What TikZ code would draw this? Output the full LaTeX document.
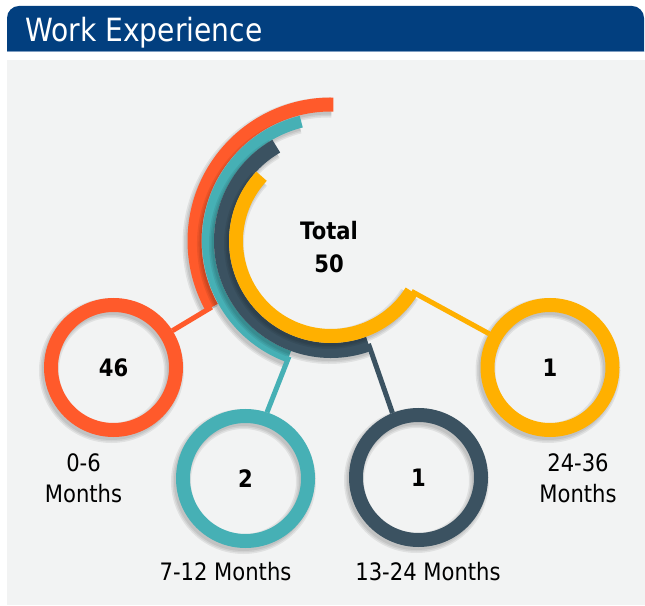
\documentclass[tikz,border=0pt]{standalone}
\usepackage{fontspec}
\newfontfamily\tahomaish[FakeStretch=0.88]{DejaVu Sans}
\usepackage{xcolor}
\usepackage{tikz}

\definecolor{headblue}{HTML}{023F7F}
\definecolor{headline}{HTML}{7D9CC0}
\definecolor{panelgray}{HTML}{F2F3F3}
\definecolor{expOrange}{HTML}{FF5A2B}
\definecolor{expTeal}{HTML}{46B0B5}
\definecolor{expSlate}{HTML}{3B5261}
\definecolor{expGold}{HTML}{FFB000}

\begin{document}
\begin{tikzpicture}[x=1pt, y=1pt,
    font=\tahomaish\fontsize{24}{31}\selectfont,
    ringnode/.style={circle, draw=#1, line width=14pt, minimum size=125pt,
        inner sep=0pt, font=\tahomaish\bfseries\fontsize{24}{29}\selectfont},
    ringshadow/.style={black, opacity=0.07, line width=#1},
    spoke/.style={draw=#1, line width=5pt},
    monthlabel/.style={anchor=base, align=center}]
    \useasboundingbox (0,0) rectangle (645,605);
    % Header band
    \fill[headblue] (7,553) [rounded corners=12pt] -- (7,599) -- (644,599)
        [sharp corners] -- (644,553) -- cycle;
    \draw[headline, line width=1pt] (7,553) -- (644,553);
    \node[white, anchor=base west, inner sep=0pt,
        font=\tahomaish\fontsize{32}{38}\selectfont] (title) at (25,563) {Work Experience};
    % Panel
    \fill[panelgray] (7,0) rectangle (645,545);

    \coordinate (ctr) at (331,364);
    % Arcs, outermost first, each over a soft shadow
    \foreach \col/\rad/\w/\sa/\ea/\id in {expOrange/136.5/14/89/209/a,
        expTeal/123/12/104/250/b, expSlate/109.5/15/120/290/c, expGold/95/14/137/328/d} {
        \foreach \s in {6,3,0}
            \draw[ringshadow=\w+\s, shift={(ctr)}, xshift=-2pt, yshift=-3pt]
                (\sa:\rad) arc[start angle=\sa, end angle=\ea, radius=\rad];
        \draw[\col, line width=\w, shift={(ctr)}]
            (\sa:\rad) arc[start angle=\sa, end angle=\ea, radius=\rad] coordinate (end\id);
    }
    % Circles
    \foreach \col/\x/\y/\n/\id in {expOrange/113.5/237.5/46/a, expTeal/245.5/126.5/2/b,
        expSlate/418.5/127.5/1/c, expGold/550/237.5/1/d} {
        \foreach \s in {20,17,14}
            \draw[ringshadow=\s] (\x-2,\y-3) circle[radius=62.5];
        \node[ringnode=\col] (circ\id) at (\x,\y) {\n};
    }
    % Spokes
    \draw[spoke=expOrange] (enda) -- (circa.32);
    \draw[spoke=expTeal] (endb) -- (circb.72);
    \draw[spoke=expSlate] (endc) -- (circc.112);
    \draw[spoke=expGold] (endd) -- (circd.151);

    % Texts (base = last line)
    \node[anchor=base, align=center, font=\tahomaish\bfseries\fontsize{24}{33}\selectfont]
        (total) at (329,332) {Total\\50};
    \node[monthlabel] (lbla) at (83.5,102) {0-6\\Months};
    \node[monthlabel] (lblb) at (225.5,25) {7-12 Months};
    \node[monthlabel] (lblc) at (428,25) {13-24 Months};
    \node[monthlabel] (lbld) at (578,102) {24-36\\Months};
\end{tikzpicture}
\end{document}
